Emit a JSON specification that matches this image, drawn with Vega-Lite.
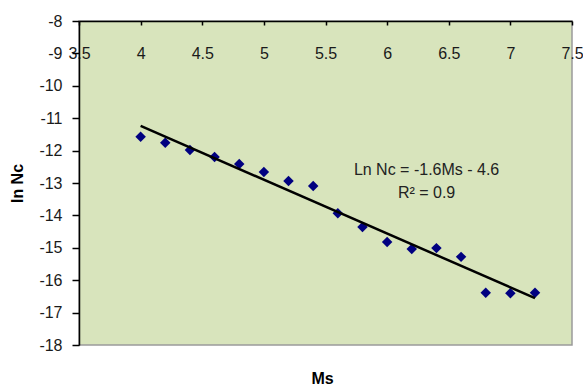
{
  "$schema": "https://vega.github.io/schema/vega-lite/v6.json",
  "width": 493,
  "height": 324,
  "autosize": "none",
  "padding": {"left": 79, "top": 21, "right": 11, "bottom": 40},
  "background": "white",
  "config": {
    "view": {"fill": "#D8E4BC", "stroke": "#9A9A9A", "strokeWidth": 1.5},
    "font": "Liberation Sans"
  },
  "data": {
    "values": [
      {"Ms": 4.0, "lnNc": -11.57},
      {"Ms": 4.2, "lnNc": -11.76},
      {"Ms": 4.4, "lnNc": -11.98},
      {"Ms": 4.6, "lnNc": -12.2},
      {"Ms": 4.8, "lnNc": -12.41},
      {"Ms": 5.0, "lnNc": -12.66},
      {"Ms": 5.2, "lnNc": -12.94},
      {"Ms": 5.4, "lnNc": -13.09},
      {"Ms": 5.6, "lnNc": -13.93},
      {"Ms": 5.8, "lnNc": -14.36},
      {"Ms": 6.0, "lnNc": -14.82},
      {"Ms": 6.2, "lnNc": -15.04},
      {"Ms": 6.4, "lnNc": -15.01},
      {"Ms": 6.6, "lnNc": -15.28},
      {"Ms": 6.8, "lnNc": -16.39},
      {"Ms": 7.0, "lnNc": -16.4},
      {"Ms": 7.2, "lnNc": -16.39}
    ]
  },
  "encoding": {
    "x": {
      "field": "Ms", "type": "quantitative",
      "scale": {"domain": [3.5, 7.5], "nice": false, "zero": false},
      "axis": {
        "orient": "top", "values": [3.5, 4, 4.5, 5, 5.5, 6, 6.5, 7, 7.5],
        "labelExpr": "toString(datum.value)",
        "grid": false, "domainColor": "#000", "domainWidth": 1.5,
        "tickColor": "#000", "tickSize": -4, "tickWidth": 1.5,
        "labelPadding": -28, "labelBaseline": "middle", "labelFontSize": 16, "labelColor": "#1a1a1a",
        "labelFlush": false, "labelOverlap": false,
        "title": "Ms", "titleFontSize": 16, "titleFontWeight": "bold", "titleColor": "#000",
        "titleX": 243, "titleY": 357, "titleBaseline": "middle"
      }
    },
    "y": {
      "field": "lnNc", "type": "quantitative",
      "scale": {"domain": [-18, -8], "nice": false, "zero": false},
      "axis": {
        "values": [-18, -17, -16, -15, -14, -13, -12, -11, -10, -9, -8],
        "labelExpr": "toString(datum.value)",
        "grid": false, "domainColor": "#000", "domainWidth": 1.5,
        "tickColor": "#000", "tickSize": 7, "tickWidth": 1.5,
        "labelPadding": 10, "labelFontSize": 16, "labelColor": "#1a1a1a",
        "labelFlush": false, "labelOverlap": false,
        "title": "ln Nc", "titleFontSize": 16, "titleFontWeight": "bold", "titleColor": "#000",
        "titleX": -62, "titleY": 162, "titleAngle": -90, "titleBaseline": "middle", "titleAlign": "center"
      }
    }
  },
  "layer": [
    {
      "mark": {"type": "point", "shape": "diamond", "filled": true, "size": 110, "color": "#000080", "opacity": 1}
    },
    {
      "transform": [{"regression": "lnNc", "on": "Ms", "extent": [4, 7.2]}],
      "mark": {"type": "line", "color": "#000", "strokeWidth": 2.5}
    },
    {
      "data": {"values": [
        {"Ms": 6.32, "lnNc": -12.6, "label": "Ln Nc = -1.6Ms - 4.6"},
        {"Ms": 6.32, "lnNc": -13.31, "label": "R² = 0.9"}
      ]},
      "mark": {"type": "text", "fontSize": 16, "color": "#222", "align": "center", "baseline": "middle"},
      "encoding": {"text": {"field": "label"}}
    }
  ]
}
